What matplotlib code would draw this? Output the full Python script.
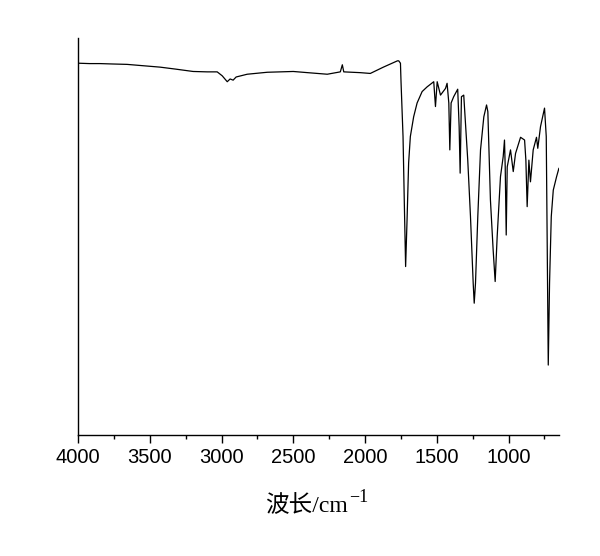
import matplotlib
matplotlib.use("Agg")
import matplotlib.pyplot as plt
from matplotlib.ticker import MultipleLocator

# IR spectrum (wavenumber cm^-1, transmittance %)
wavenumber = [4000, 3920, 3847, 3760, 3658, 3560, 3428, 3320, 3198, 3100, 3030, 2995,
              2960, 2940, 2919, 2898, 2821, 2681, 2500, 2400, 2263, 2172, 2158, 2148,
              2033, 1963, 1872, 1774, 1765, 1753, 1749, 1735, 1726, 1717, 1707, 1696,
              1684, 1661, 1637, 1602, 1567, 1521, 1509, 1497, 1474, 1439, 1428, 1416,
              1409, 1400, 1382, 1354, 1344, 1337, 1328, 1312, 1284, 1265, 1246, 1239,
              1230, 1214, 1195, 1172, 1153, 1144, 1126, 1107, 1093, 1079, 1056, 1037,
              1028, 1023, 1016, 1009, 986, 967, 951, 916, 888, 879, 870, 858, 847,
              828, 805, 796, 777, 749, 737, 730, 723, 714, 702, 688, 665, 649]
transmittance = [94.1, 94.0, 94.0, 93.9, 93.8, 93.5, 93.1, 92.6, 92.0, 91.9, 91.9, 90.9,
                 89.4, 90.1, 89.8, 90.6, 91.3, 91.8, 92.0, 91.7, 91.3, 91.9, 93.7, 91.9,
                 91.7, 91.5, 93.1, 94.7, 94.7, 94.1, 89.4, 75.5, 58.6, 42.5, 54.3, 68.8,
                 75.5, 80.5, 84.0, 86.9, 88.1, 89.4, 83.1, 89.4, 86.0, 87.7, 89.0, 84.0,
                 72.1, 84.0, 85.6, 87.5, 78.0, 66.2, 85.6, 86.0, 69.5, 55.2, 38.2, 33.2,
                 38.3, 55.2, 72.1, 80.5, 83.5, 81.8, 59.4, 46.7, 38.7, 50.1, 65.3, 70.4,
                 74.6, 67.8, 50.5, 67.8, 72.1, 66.6, 71.2, 75.3, 74.6, 69.5, 57.7, 69.5, 64.0,
                 72.1, 75.3, 72.5, 78.0, 82.7, 75.5, 46.7, 17.5, 38.3, 55.2, 61.9, 65.3, 67.4]

xticks = [4000, 3500, 3000, 2500, 2000, 1500, 1000]
xlabel_main = "波长/cm"
xlabel_sup = "\u22121"

fig = plt.figure(figsize=(6.0, 5.56), dpi=100)
ax = fig.add_axes([0.13, 0.2176, 0.8017, 0.7141])
ax.plot(wavenumber, transmittance, color='black', lw=0.9)

ax.set_xlim(4000, 648)
ax.set_ylim(-0.25, 100.5)
ax.set_xticks(xticks)
ax.set_xticklabels([str(t) for t in xticks], fontsize=14.5, family=['Liberation Sans'])
ax.xaxis.set_minor_locator(MultipleLocator(250))
ax.tick_params(axis='x', which='major', direction='out', length=5.5, width=1, pad=4)
ax.tick_params(axis='x', which='minor', direction='out', length=3, width=1)
ax.set_yticks([])
ax.spines['top'].set_visible(False)
ax.spines['right'].set_visible(False)
ax.spines['left'].set_linewidth(1)
ax.spines['bottom'].set_linewidth(1)

lab = fig.text(306 / 600, (556 - 512) / 556, xlabel_main, fontsize=17,
               family=['Liberation Serif', 'Noto Sans CJK SC'], ha='center', va='baseline')
ax.annotate(xlabel_sup, xy=(1, 0), xycoords=lab, xytext=(1.5, 10.5), textcoords='offset points',
            fontsize=13, family=['Liberation Serif'], ha='left', va='baseline',
            annotation_clip=False)

fig.savefig('out.png', dpi=100)
